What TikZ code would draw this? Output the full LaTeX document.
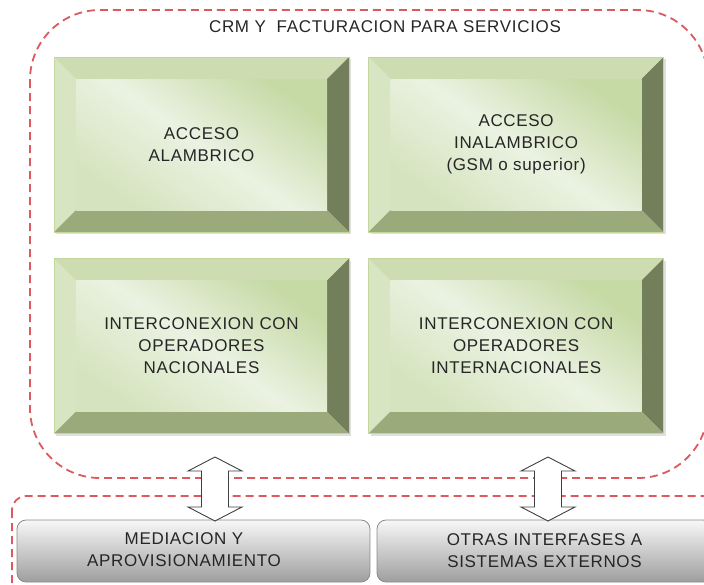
\documentclass[tikz,border=0pt]{standalone}
\usepackage{fontspec}
\newfontfamily\diagfont[LetterSpace=4]{Liberation Sans}
\usetikzlibrary{positioning,shadows}

\definecolor{dashred}{HTML}{DC5A5E}
\definecolor{panelrim}{HTML}{C3D69B}
\definecolor{bevtop}{HTML}{CEDDB1}
\definecolor{bevleft}{HTML}{D8E5C2}
\definecolor{bevright}{HTML}{737E5A}
\definecolor{bevbottom}{HTML}{9BAA7B}
\definecolor{facedark}{HTML}{C6DAA6}
\definecolor{facelight}{HTML}{EBF2E2}
\definecolor{boxrim}{HTML}{8A8A8A}
\definecolor{inkgray}{HTML}{262626}

\def\bevw{22pt}

\tikzset{
  txt/.style={font=\diagfont\fontsize{17}{22}\selectfont, text=inkgray, align=center},
  zone/.style={draw=dashred, line width=1.8pt, dash pattern=on 8pt off 5pt},
  panel/.style={txt, minimum width=295pt, minimum height=175pt, inner sep=0pt,
    draw=panelrim, line width=0.6pt,
    drop shadow={shadow xshift=2pt, shadow yshift=-2pt, opacity=0.25},
    path picture={
      \path (path picture bounding box.north west) coordinate (pnw)
            (path picture bounding box.north east) coordinate (pne)
            (path picture bounding box.south east) coordinate (pse)
            (path picture bounding box.south west) coordinate (psw)
            ([shift={(\bevw,-\bevw)}]pnw) coordinate (qnw)
            ([shift={(-\bevw,-\bevw)}]pne) coordinate (qne)
            ([shift={(-\bevw,\bevw)}]pse) coordinate (qse)
            ([shift={(\bevw,\bevw)}]psw) coordinate (qsw);
      \fill[bevtop] (pnw) -- (pne) -- (qne) -- (qnw) -- cycle;
      \fill[bevleft] (pnw) -- (qnw) -- (qsw) -- (psw) -- cycle;
      \fill[bevright] (pne) -- (pse) -- (qse) -- (qne) -- cycle;
      \fill[bevbottom] (psw) -- (qsw) -- (qse) -- (pse) -- cycle;
      \shade[top color=facedark, bottom color=facedark!60!facelight,
             middle color=facelight, shading angle=-35] (qnw) rectangle (qse);
    }},
  greybox/.style={draw=boxrim, line width=0.8pt, rounded corners=9pt,
    top color=white!97!black, middle color=white!88!black, bottom color=white!62!black,
    minimum height=62pt, inner sep=0pt},
  fatarrow/.style={draw=black!75, line width=0.9pt, fill=white, line join=miter}
}

\begin{document}
\begin{tikzpicture}[x=1pt,y=-1pt]
\useasboundingbox (0,0) rectangle (704,584);
\clip (0,0) rectangle (704,584);

% dashed zones
\coordinate (crmNW) at (30,10);
\coordinate (crmSE) at (708,478);
\draw[zone, rounded corners=70pt] (crmNW) rectangle (crmSE);
\coordinate (extNW) at (12,496);
\coordinate (extSE) at (724,610);
\draw[zone, rounded corners=14pt] (extNW) rectangle (extSE);
\node[txt] (title) at (385,27) {CRM Y\ \ FACTURACION PARA SERVICIOS};

% service panels
\node[panel] (alam) at (201.5,144.5) {ACCESO\\ALAMBRICO};
\node[panel, right=19pt of alam] (inal) {ACCESO\\INALAMBRICO\\(GSM o superior)};
\node[panel, below=26pt of alam] (nac) {INTERCONEXION CON\\OPERADORES\\NACIONALES};
\node[panel, below=26pt of inal] (intl) {INTERCONEXION CON\\OPERADORES\\INTERNACIONALES};

% external systems
\node[greybox, minimum width=353pt] (med) at (193.5,551) {};
\node[txt] (medtxt) at (184,550) {MEDIACION Y\\APROVISIONAMIENTO};
\node[greybox, minimum width=335pt] (otras) at (544.5,551) {};
\node[txt] (otrastxt) at (otras) {OTRAS INTERFASES A\\SISTEMAS EXTERNOS};

% links between the zones
\coordinate (linkL) at (215,457);
\coordinate (linkR) at (548,457);
\foreach \lk in {linkL,linkR}
  \draw[fatarrow] (\lk) -- ++(27,14) -- ++(-13.5,0) -- ++(0,36) -- ++(13.5,0)
    -- ++(-27,14) -- ++(-27,-14) -- ++(13.5,0) -- ++(0,-36) -- ++(-13.5,0) -- cycle;
\end{tikzpicture}
\end{document}
